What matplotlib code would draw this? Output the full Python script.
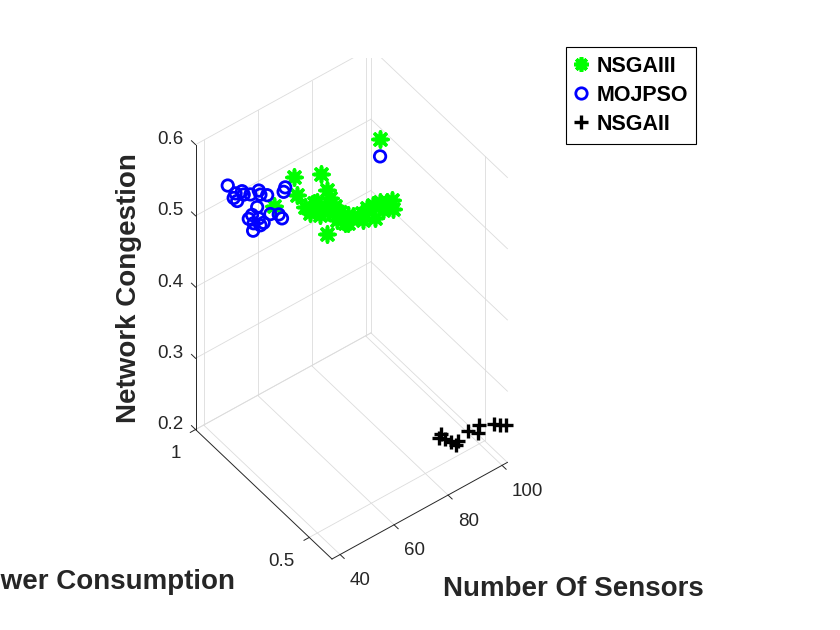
import matplotlib
matplotlib.use('Agg')
import matplotlib.pyplot as plt
from mpl_toolkits.mplot3d import proj3d
from matplotlib.lines import Line2D

plt.rcParams['font.family'] = ['Liberation Sans', 'DejaVu Sans']

# ---------------- data ----------------
nsga3_x = [90.2, 61.0, 70.9, 61.9, 53.3, 65.0, 69.3, 66.8, 73.0, 74.2, 72.4, 76.1, 77.9,
           79.1, 81.0, 79.8, 76.7, 82.8, 73.0, 85.9, 87.8, 90.2, 92.7, 95.2, 97.0, 97.6,
           90.8, 86.5, 93.9, 68.1, 75.4, 81.0, 70.5]
nsga3_y = [0.82] + [0.85] * 32
nsga3_z = [0.552, 0.550, 0.534, 0.523, 0.525, 0.500, 0.497, 0.487, 0.507, 0.493, 0.482,
           0.477, 0.465, 0.454, 0.455, 0.446, 0.457, 0.449, 0.445, 0.447, 0.450, 0.450,
           0.449, 0.444, 0.443, 0.428, 0.430, 0.437, 0.435, 0.498, 0.469, 0.444, 0.477]

mojpso_x = [46.4, 49.3, 51.7, 48.6, 49.9, 52.3, 54.8, 57.9, 58.5, 61.0, 67.7, 67.1, 57.3,
            55.4, 57.9, 59.7, 56.0, 62.2, 65.3, 66.5, 55.8, 58.5, 54.2, 90.2]
mojpso_y = [0.97] * 23 + [0.82]
mojpso_z = [0.532, 0.515, 0.513, 0.510, 0.503, 0.507, 0.502, 0.501, 0.494, 0.488, 0.485,
            0.480, 0.479, 0.472, 0.462, 0.452, 0.459, 0.459, 0.452, 0.444, 0.449, 0.451,
            0.469, 0.527]

nsga2_x = [92.7, 91.8, 91.9, 93.4, 94.2, 93.8, 94.9, 96.7, 97.1, 98.7, 99.6, 101.5]
nsga2_y = [0.58, 0.58, 0.556, 0.544, 0.532, 0.52, 0.49, 0.46, 0.472, 0.418, 0.406, 0.40]
nsga2_z = [0.205, 0.201, 0.206, 0.203, 0.200, 0.211, 0.232, 0.246, 0.229, 0.255, 0.256, 0.254]

series_names = ['NSGAIII', 'MOJPSO', 'NSGAII']

x_lim = (37, 102)
y_lim = (0.4, 1.0)
z_lim = (0.2, 0.6)
x_ticks = [40, 60, 80, 100]
x_ticklabels = ['40', '60', '80', '100']
y_ticks = [0.5, 1.0]
y_ticklabels = ['0.5', '1']
z_ticks = [0.2, 0.3, 0.4, 0.5, 0.6]
z_ticklabels = ['0.2', '0.3', '0.4', '0.5', '0.6']

xlabel = 'Number Of Sensors'
ylabel = 'Power Consumption'
zlabel = 'Network Congestion'

# ---------------- figure ----------------
W, H = 840, 630
fig = plt.figure(figsize=(W / 100, H / 100), dpi=100)
ax = fig.add_axes([0.2, 0.1, 0.5, 0.8], projection='3d', proj_type='ortho')
ax.set_xlim(*x_lim)
ax.set_ylim(*y_lim)
ax.set_zlim(*z_lim)
ax.set_box_aspect((1, 1.021, 1.87))
ax.view_init(elev=46.3, azim=-127.3)
ax.set_axis_off()
ax.computed_zorder = False

x0, x1 = x_lim
y0, y1 = y_lim
z0, z1 = z_lim
gc = '#dcdcdc'
glw = 0.6
ac = '#262626'
dxr = x1 - x0
dyr = y1 - y0


def seg(p, q, **kw):
    ax.plot([p[0], q[0]], [p[1], q[1]], [p[2], q[2]], **kw)


# grid on back planes
for xt in x_ticks:
    seg((xt, y0, z0), (xt, y1, z0), color=gc, lw=glw, zorder=1)
    seg((xt, y1, z0), (xt, y1, z1), color=gc, lw=glw, zorder=1)
for yt in y_ticks:
    seg((x0, yt, z0), (x1, yt, z0), color=gc, lw=glw, zorder=1)
    seg((x1, yt, z0), (x1, yt, z1), color=gc, lw=glw, zorder=1)
for zt in z_ticks:
    seg((x0, y1, zt), (x1, y1, zt), color=gc, lw=glw, zorder=1)
    seg((x1, y0, zt), (x1, y1, zt), color=gc, lw=glw, zorder=1)

# axis lines
seg((x0, y1, z0), (x0, y1, z1), color=ac, lw=0.7, zorder=2)
seg((x0, y0, z0), (x0, y1, z0), color=ac, lw=0.7, zorder=2)
seg((x0, y0, z0), (x1, y0, z0), color=ac, lw=0.7, zorder=2)

# tick marks
for zt in z_ticks:
    seg((x0, y1, zt), (x0, y1 + 0.03 * dyr, zt), color=ac, lw=0.7, zorder=2)
for yt in y_ticks:
    seg((x0, yt, z0), (x0 - 0.03 * dxr, yt, z0), color=ac, lw=0.7, zorder=2)
for xt in x_ticks:
    seg((xt, y0, z0), (xt, y0 - 0.03 * dyr, z0), color=ac, lw=0.7, zorder=2)

# data
ax.scatter(nsga3_x, nsga3_y, nsga3_z, marker=(8, 2, 0), s=115, color='#00ff00',
           linewidths=2.6, depthshade=False, zorder=3)
ax.scatter(mojpso_x, mojpso_y, mojpso_z, marker='o', s=68, facecolors='none',
           edgecolors='#0000ff', linewidths=2.0, depthshade=False, zorder=4)
ax.scatter(nsga2_x, nsga2_y, nsga2_z, marker='+', s=95, color='k',
           linewidths=2.4, depthshade=False, zorder=5)

# ---- fit the projected box onto the reference position ----
fig.canvas.draw()


def to_px(x, y, z):
    X, Y, _ = proj3d.proj_transform(x, y, z, ax.get_proj())
    return ax.transData.transform((X, Y))


pB = to_px(x0, y0, z0)
pT = to_px(x1, y1, z1)
tB = (332.0, H - 559.0)
tT = (373.0, H - 48.0)
s = (tT[1] - tB[1]) / (pT[1] - pB[1])
bb = ax.get_position()
cx = (bb.x0 + bb.x1) / 2 * W
cy = (bb.y0 + bb.y1) / 2 * H
bw = bb.width * W * s
bh = bb.height * H * s
ncx = tB[0] - s * (pB[0] - cx)
ncy = tB[1] - s * (pB[1] - cy)
ax.set_position([(ncx - bw / 2) / W, (ncy - bh / 2) / H, bw / W, bh / H])
fig.canvas.draw()

# tick labels placed at the projected tick positions
tfs = 13.5
tc = '#262626'
for zt, lab in zip(z_ticks, z_ticklabels):
    px, py = to_px(x0, y1, zt)
    fig.text((px - 12) / W, (py + 5) / H, lab, ha='right', va='center',
             fontsize=tfs, color=tc)
for yt, lab in zip(y_ticks, y_ticklabels):
    px, py = to_px(x0, yt, z0)
    fig.text((px - 15) / W, (py - 24) / H, lab, ha='right', va='center',
             fontsize=tfs, color=tc)
for xt, lab in zip(x_ticks, x_ticklabels):
    px, py = to_px(xt, y0, z0)
    fig.text((px + 10) / W, (py - 26) / H, lab, ha='left', va='center',
             fontsize=tfs, color=tc)

# axis labels
lc = '#262626'
fig.text(573 / W, 1 - 589 / H, xlabel, ha='center', va='center', fontsize=20,
         fontweight='bold', color=lc)
fig.text(235 / W, 1 - 582 / H, ylabel, ha='right', va='center', fontsize=20,
         fontweight='bold', color=lc)
fig.text(129 / W, 1 - 288 / H, zlabel, ha='center', va='center', fontsize=20,
         fontweight='bold', color=lc, rotation=90)

# legend
handles = [
    Line2D([], [], linestyle='none', marker=(8, 2, 0), markersize=10.5, color='#00ff00',
           markeredgewidth=2.6),
    Line2D([], [], linestyle='none', marker='o', markersize=8.2, markerfacecolor='none',
           markeredgecolor='#0000ff', markeredgewidth=2.0),
    Line2D([], [], linestyle='none', marker='+', markersize=9.7, color='k',
           markeredgewidth=2.4),
]
leg = fig.legend(handles, series_names, loc='upper left',
                 bbox_to_anchor=(566 / W, 1 - 47 / H), frameon=True, fancybox=False,
                 edgecolor='k', framealpha=1, borderaxespad=0, handlelength=0.6,
                 handletextpad=0.4, labelspacing=0.38, borderpad=0.4,
                 prop={'size': 15.5, 'weight': 'bold'})
leg.get_frame().set_linewidth(0.8)

fig.savefig('out.png', dpi=100)
